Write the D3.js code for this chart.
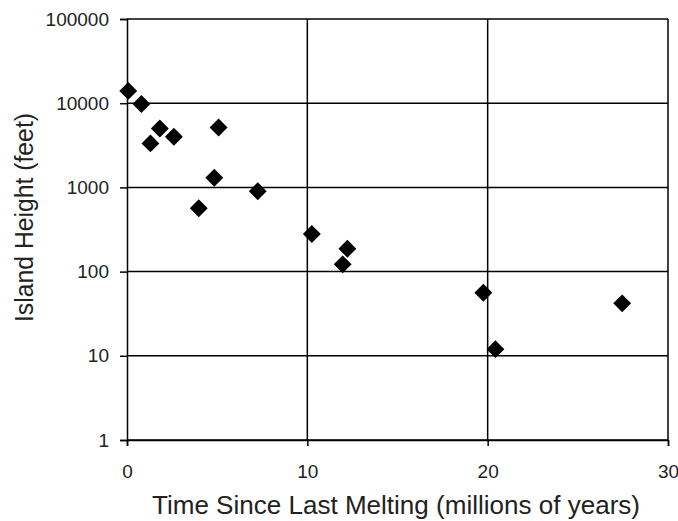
<!DOCTYPE html>
<html>
<head>
<meta charset="utf-8">
<script src="https://cdn.jsdelivr.net/npm/d3@7"></script>
<style>
  body { margin: 0; background: #fff; }
  text { font-family: "Liberation Sans", Arial, sans-serif; fill: #222; }
</style>
</head>
<body>
<svg id="chart" width="678" height="521"></svg>
<script>
const CHART = d3.select('#chart');

// time since last melting (millions of years)
let ages = [0.07, 0.8, 1.3, 1.82, 2.6, 3.98, 4.84, 5.08, 7.25, 10.25, 11.96, 12.22, 19.76, 20.43, 27.46];
// island height (feet)
let heights = [14000, 9800, 3330, 5000, 4000, 565, 1300, 5150, 900, 280, 122, 187, 56, 12, 42];
let xTicks = [0, 10, 20, 30];
let yTicks = [1, 10, 100, 1000, 10000, 100000];

let plotLeft = 127, plotRight = 668, plotTop = 19, plotBottom = 440;

let x = d3.scaleLinear().domain([0, 30]).range([plotLeft, plotRight]);
let y = d3.scaleLog().domain([1, 100000]).range([plotBottom, plotTop]);

// horizontal grid lines
CHART.append('g')
    .selectAll('line')
    .data(yTicks)
    .join('line')
    .attr('x1', plotLeft)
    .attr('x2', plotRight)
    .attr('y1', d => y(d))
    .attr('y2', d => y(d))
    .attr('stroke', '#000')
    .attr('stroke-width', 1.5)

// vertical grid lines
CHART.append('g')
    .selectAll('line')
    .data(xTicks.slice(1))
    .join('line')
    .attr('x1', d => x(d))
    .attr('x2', d => x(d))
    .attr('y1', plotTop)
    .attr('y2', plotBottom)
    .attr('stroke', '#000')
    .attr('stroke-width', 1.5)

// axes
let yAxis = CHART.append('g')
    .attr('transform', `translate(${plotLeft},0)`)
    .call(d3.axisLeft(y).tickValues(yTicks).tickFormat(d3.format('d')).tickSize(7).tickPadding(11));

let xAxis = CHART.append('g')
    .attr('transform', `translate(0,${plotBottom})`)
    .call(d3.axisBottom(x).tickValues(xTicks).tickSize(6).tickPadding(19));

[yAxis, xAxis].forEach(ax => {
    ax.select('.domain').attr('stroke', '#000').attr('stroke-width', 1.5);
    ax.selectAll('.tick line').attr('stroke', '#000').attr('stroke-width', 1.5);
    ax.selectAll('.tick text')
        .attr('font-size', 19)
        .attr('fill', '#222')
        .attr('font-family', '"Liberation Sans", Arial, sans-serif');
});

// data points
let points = ages.map((a, i) => ({ age: a, height: heights[i] }));

CHART.append('g')
    .selectAll('path')
    .data(points)
    .join('path')
    .attr('d', d3.symbol(d3.symbolSquare, 160))
    .attr('transform', d => `translate(${x(d.age)},${y(d.height)}) rotate(45)`)
    .attr('fill', '#000')

// axis titles (tall, narrow lettering)
CHART.append('text')
    .attr('transform', 'translate(152,514) scale(1,1.2)')
    .attr('font-size', 22)
    .attr('textLength', 488)
    .attr('lengthAdjust', 'spacingAndGlyphs')
    .text('Time Since Last Melting (millions of years)')

CHART.append('text')
    .attr('transform', 'translate(33,322) rotate(-90) scale(1,1.2)')
    .attr('font-size', 22)
    .attr('textLength', 209)
    .attr('lengthAdjust', 'spacingAndGlyphs')
    .text('Island Height (feet)')
</script>
</body>
</html>
